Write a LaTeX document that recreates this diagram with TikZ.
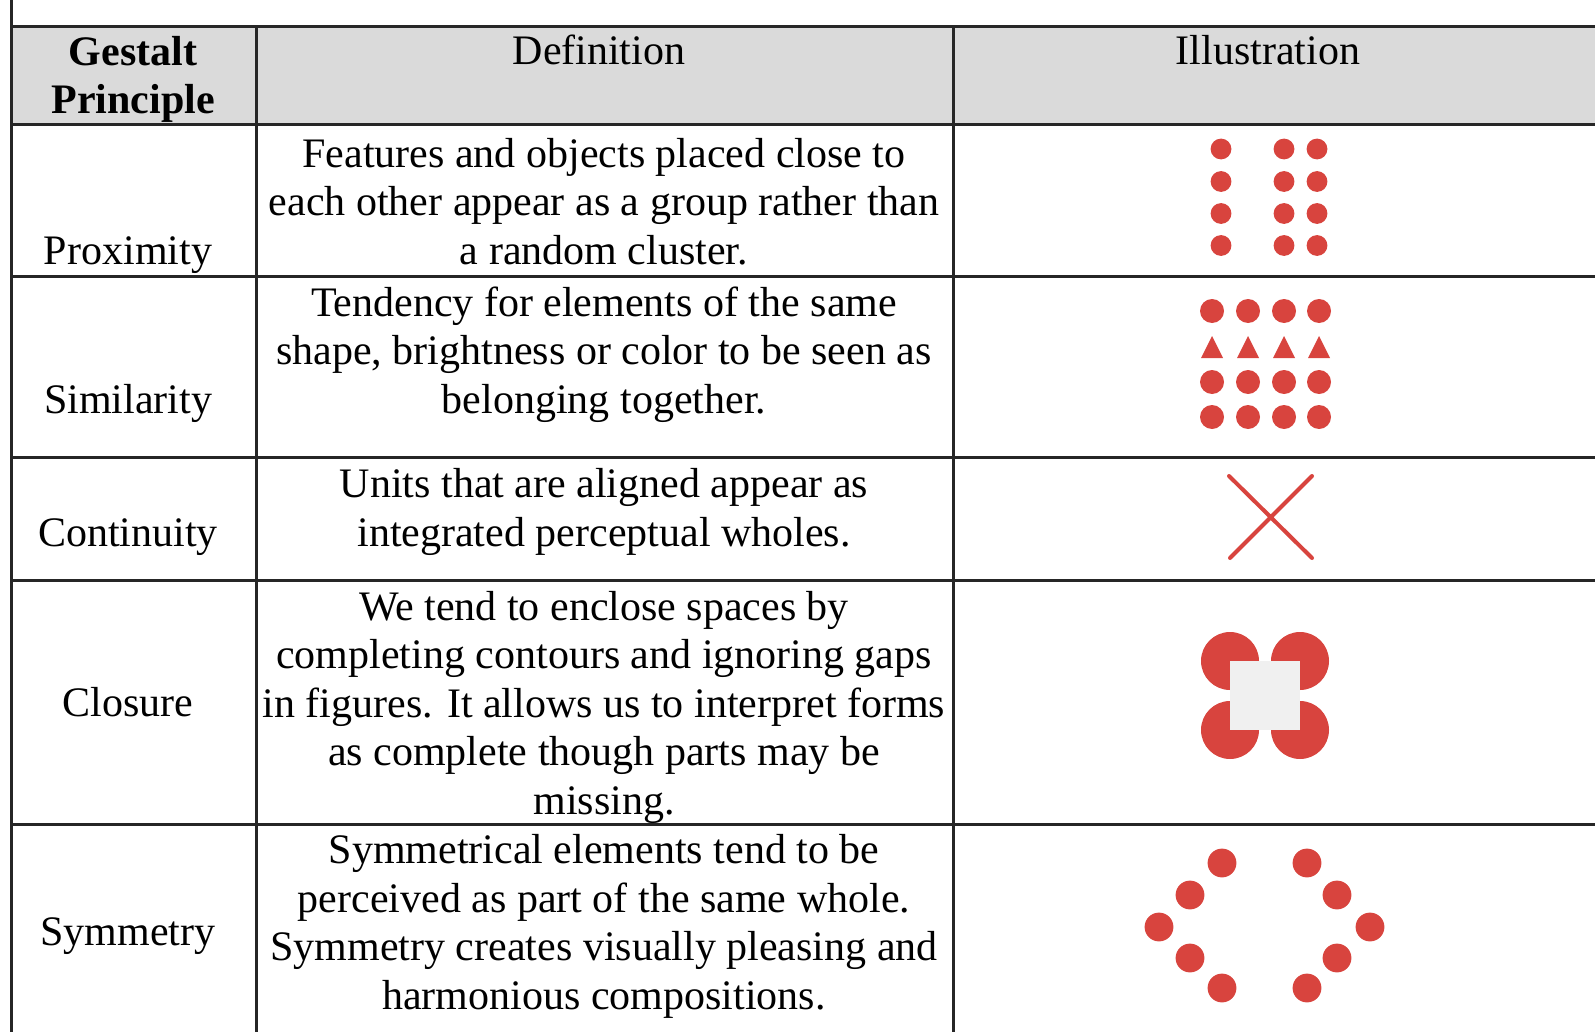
\documentclass[tikz,border=0pt]{standalone}
\usepackage{fontspec}
\setmainfont{Liberation Serif}
\definecolor{dotred}{RGB}{216,68,62}
\definecolor{headgray}{RGB}{218,218,218}
\definecolor{boxgray}{RGB}{240,240,240}

\begin{document}
\begin{tikzpicture}[x=0.5pt,y=-0.5pt,
	cell node/.style={anchor=base,inner sep=0pt,align=center,font=\fontsize{21}{24.2}\selectfont},
	head node/.style={cell node,font=\fontsize{21}{24.2}\selectfont\bfseries},
	rule/.style={line width=1.5pt,black!85}]
			
			\useasboundingbox (0,0) rectangle (1595,1032);
			\fill[headgray] (11,26.5) rectangle (1600,125);
			
			% table rules
			\draw[rule] (11,0) -- (11,1040);
			\draw[rule] (256,26.5) -- (256,1040);
			\draw[rule] (953,26.5) -- (953,1040);
			\draw[rule] (11,26.5) -- (1600,26.5);
			\draw[rule] (11,125) -- (1600,125);
			\draw[rule] (11,277) -- (1600,277);
			\draw[rule] (11,457) -- (1600,457);
			\draw[rule] (11,580) -- (1600,580);
			\draw[rule] (11,824) -- (1600,824);
			
			% header (base = last line)
			\node[head node] (principle) at (133,114) {Gestalt\\Principle};
			\node[cell node] (definition) at (599,65) {Definition};
			\node[cell node] (illustration) at (1268,65) {Illustration};
			
			% first column
			\node[cell node] (proximity) at (128,264) {Proximity};
			\node[cell node] (similarity) at (128,413) {Similarity};
			\node[cell node] (continuity) at (128,546) {Continuity};
			\node[cell node] (closure) at (128,716) {Closure};
			\node[cell node] (symmetry) at (128,945) {Symmetry};
			
			% definitions
			\node[cell node] (def proximity) at (604,264) {Features and objects placed close to\\each other appear as a group rather than\\a random cluster.};
			\node[cell node] (def similarity) at (604,413) {Tendency for elements of the same\\shape, brightness or color to be seen as\\belonging together.};
			\node[cell node] (def continuity) at (604,546) {Units that are aligned appear as\\integrated perceptual wholes.};
			\node[cell node] (def closure) at (604,814) {We tend to enclose spaces by\\completing contours and ignoring gaps\\in figures. It allows us to interpret forms\\as complete though parts may be\\missing.};
			\node[cell node] (def symmetry) at (604,1009) {Symmetrical elements tend to be\\perceived as part of the same whole.\\Symmetry creates visually pleasing and\\harmonious compositions.};
			
			% proximity dots
			\fill[dotred]
			(1221,149) circle (5.2pt) (1221,181.5) circle (5.2pt) (1221,213.5) circle (5.2pt) (1221,245.5) circle (5.2pt)
			(1284,149) circle (5.2pt) (1284,181.5) circle (5.2pt) (1284,213.5) circle (5.2pt) (1284,245.5) circle (5.2pt)
			(1317,149) circle (5.2pt) (1317,181.5) circle (5.2pt) (1317,213.5) circle (5.2pt) (1317,245.5) circle (5.2pt);
			
			% similarity dots and triangles
			\fill[dotred]
			(1212,311) circle (6pt) (1248,311) circle (6pt) (1284,311) circle (6pt) (1319,311) circle (6pt)
			(1212,382) circle (6pt) (1248,382) circle (6pt) (1284,382) circle (6pt) (1319,382) circle (6pt)
			(1212,417) circle (6pt) (1248,417) circle (6pt) (1284,417) circle (6pt) (1319,417) circle (6pt);
			\fill[dotred]
			(1201,358) -- (1212,336) -- (1223,358) -- cycle
			(1237,358) -- (1248,336) -- (1259,358) -- cycle
			(1273,358) -- (1284,336) -- (1295,358) -- cycle
			(1308,358) -- (1319,336) -- (1330,358) -- cycle;
			
			% continuity cross
			\draw[dotred,line width=2pt,line cap=round] (1229,476) -- (1312,558) (1312,476) -- (1230,558);
			
			% closure figure
			\fill[dotred] (1230,661) circle (14.5pt) (1300,661) circle (14.5pt) (1230,730) circle (14.5pt) (1300,730) circle (14.5pt);
			\fill[boxgray] (1230,661) rectangle (1300,730);
			
			% symmetry dots
			\fill[dotred]
			(1222,863) circle (7.2pt) (1190,895) circle (7.2pt) (1159,927) circle (7.2pt) (1190,958) circle (7.2pt) (1222,988) circle (7.2pt)
			(1307,863) circle (7.2pt) (1337,895) circle (7.2pt) (1370,927) circle (7.2pt) (1337,958) circle (7.2pt) (1307,988) circle (7.2pt);
			\end{tikzpicture}
\end{document}
